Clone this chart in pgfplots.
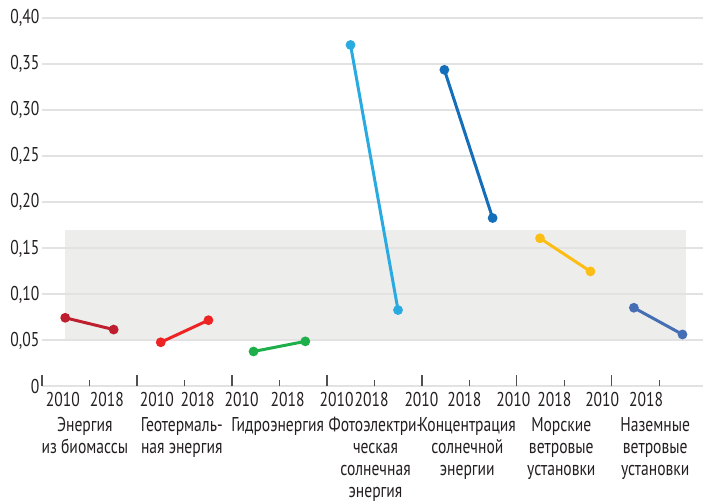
\documentclass[border=0pt]{standalone}
\usepackage{fontspec}
\setmainfont{PT Sans}[FakeStretch=0.78]
\usepackage{pgfplots}
\pgfplotsset{compat=1.18}
\definecolor{cbio}{RGB}{190,30,45}
\definecolor{cgeo}{RGB}{237,35,36}
\definecolor{chyd}{RGB}{30,175,75}
\definecolor{cpv}{RGB}{41,171,226}
\definecolor{ccsp}{RGB}{20,110,185}
\definecolor{coff}{RGB}{252,190,20}
\definecolor{con}{RGB}{70,110,180}
\definecolor{gridc}{RGB}{226,226,226}
\definecolor{bandc}{RGB}{237,237,235}
\definecolor{tickc}{RGB}{80,80,80}
\definecolor{txt}{RGB}{35,31,32}
\begin{document}
\begin{tikzpicture}
\begin{axis}[name=ax, set layers, scale only axis,
  width=662pt, height=368.7pt,
  xmin=0, xmax=6.96, ymin=0, ymax=0.40, clip=false,
  axis line style={draw=none},
  ytick={0,0.05,0.10,0.15,0.20,0.25,0.30,0.35,0.40},
  yticklabels={0,{0,05},{0,10},{0,15},{0,20},{0,25},{0,30},{0,35},{0,40}},
  ymajorgrids, major grid style={draw=gridc, line width=2pt},
  ytick style={draw=none},
  xtick={0,1,2,3,4,5,6}, xticklabels={},
  minor xtick={0.5,1.5,2.5,3.5,4.5,5.5,6.5},
  xtick pos=bottom, tick align=inside,
  major tick length=11pt, minor tick length=6pt,
  xtick style={draw=tickc, line width=1.3pt},
  extra x ticks={0.221,0.684,1.209,1.640,2.103,2.587,3.102,3.470,3.996,4.448,4.963,5.394,5.899,6.362},
  extra x tick labels={2010,2018,2010,2018,2010,2018,2010,2018,2010,2018,2010,2018,2010,2018},
  extra x tick style={major tick length=0pt, xtick style={draw=none}},
  tick label style={font=\fontsize{20}{22}\selectfont, text=txt},
  yticklabel style={xshift=1pt},
  xticklabel style={yshift=-2pt},
  every axis plot/.append style={line width=3pt, mark=*, mark size=3.3pt},
]
\begin{pgfonlayer}{axis background}
\fill[bandc] (axis cs:0.242,0.05) rectangle (axis cs:6.78,0.17);
\end{pgfonlayer}
\addplot[cbio, mark options={fill=cbio}] coordinates {(0.245,0.0746) (0.755,0.0618)};
\addplot[cgeo, mark options={fill=cgeo}] coordinates {(1.251,0.048) (1.753,0.072)};
\addplot[chyd, mark options={fill=chyd}] coordinates {(2.228,0.038) (2.773,0.049)};
\addplot[cpv, mark options={fill=cpv}] coordinates {(3.249,0.371) (3.749,0.083)};
\addplot[ccsp, mark options={fill=ccsp}] coordinates {(4.237,0.344) (4.745,0.183)};
\addplot[coff, mark options={fill=coff}] coordinates {(5.244,0.161) (5.775,0.125)};
\addplot[con, mark options={fill=con}] coordinates {(6.232,0.0855) (6.744,0.0565)};
\begin{scope}[every node/.style={anchor=north, align=center, inner sep=0pt, text=txt, font=\fontsize{20}{22}\selectfont}]
\node at ([yshift=-29.5pt]axis cs:0.452,0) {\rule{0pt}{15pt}Энергия\\из биомассы};
\node at ([yshift=-29.5pt]axis cs:1.472,0) {\rule{0pt}{15pt}Геотермаль-\\ная энергия};
\node at ([yshift=-29.5pt]axis cs:2.482,0) {\rule{0pt}{15pt}Гидроэнергия};
\node at ([yshift=-29.5pt]axis cs:3.512,0) {\rule{0pt}{15pt}Фотоэлектри-\\ческая\\солнечная\\энергия};
\node at ([yshift=-29.5pt]axis cs:4.479,0) {\rule{0pt}{15pt}Концентрация\\солнечной\\энергии};
\node at ([yshift=-29.5pt]axis cs:5.468,0) {\rule{0pt}{15pt}Морские\\ветровые\\установки};
\node at ([yshift=-29.5pt]axis cs:6.457,0) {\rule{0pt}{15pt}Наземные\\ветровые\\установки};
\end{scope}
\end{axis}
\path[use as bounding box] ([shift={(-42pt,-104pt)}]ax.south west) rectangle ++(704pt,491pt);
\end{tikzpicture}
\end{document}
